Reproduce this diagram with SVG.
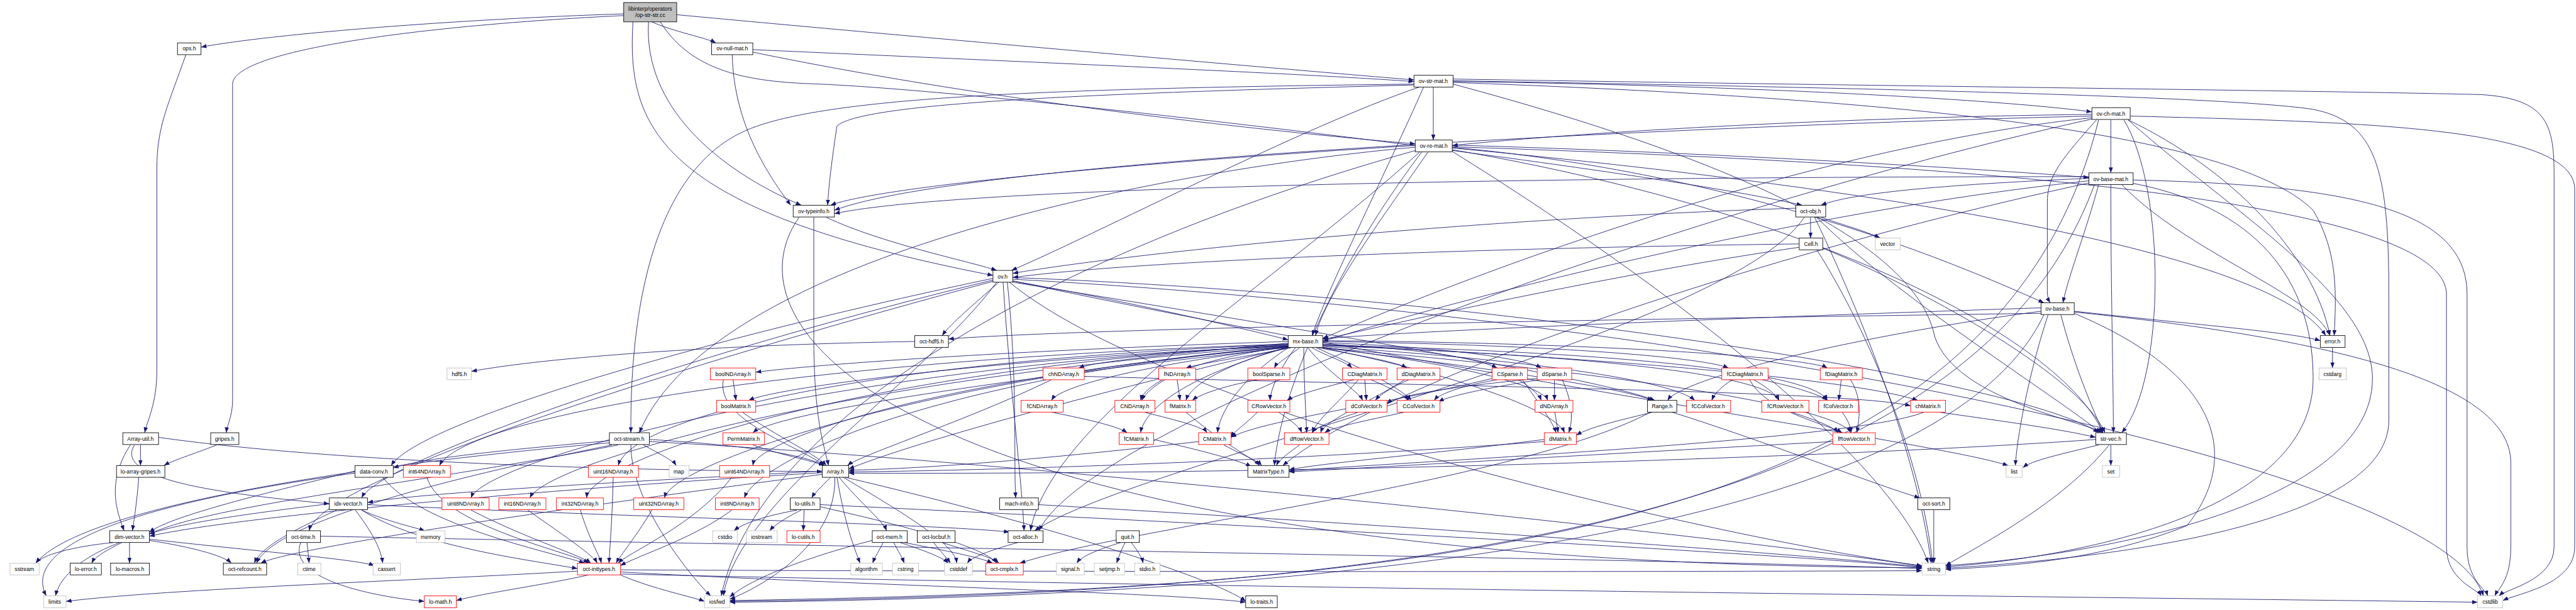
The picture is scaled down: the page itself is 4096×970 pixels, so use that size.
<svg xmlns="http://www.w3.org/2000/svg" width="4096" height="970" viewBox="0 0 4096 970">
<style>
.nd rect{fill:#fff;stroke:#000;stroke-width:1.3}
.nd.r rect{stroke:#ff0000}
.nd.g rect{stroke:#bfbfbf}
.nd.root rect{fill:#bfbfbf}
.nd text{font-family:"Liberation Sans",Arial,sans-serif;font-size:13px;text-anchor:middle;fill:#000}
#edges path{fill:none;stroke:#191970;stroke-width:1.3;marker-end:url(#ah)}
</style>
<defs>
<marker id="ah" markerUnits="userSpaceOnUse" markerWidth="14" markerHeight="10" refX="13" refY="5" orient="auto">
<path d="M0,0 L13,5 L0,10 z" fill="#191970"/>
</marker>
</defs>
<rect width="4096" height="970" fill="#fff"/>
<g transform="scale(0.66873)">
<g id="edges">
<path d="M1483 33 C1100 45 650 80 478 112"/>
<path d="M1550 52 C1600 75 1680 90 1702 102"/>
<path d="M1609 35 C2200 90 3000 160 3362 190"/>
<path d="M1483 37 C1000 60 553 120 553 200 L553 950 C553 990 540 1010 538 1029"/>
<path d="M1570 52 C1650 180 1800 195 1950 200 C2400 220 3900 400 4285 488"/>
<path d="M1542 52 C1530 250 1700 400 1905 488"/>
<path d="M1505 52 C1490 300 1560 500 2361 655"/>
<path d="M442 130 C400 250 373 300 373 400 L373 880 C373 960 350 1000 344 1029"/>
<path d="M1790 118 C2500 150 3100 175 3362 194"/>
<path d="M1790 124 C2400 250 3100 320 3365 342"/>
<path d="M1741 130 C1745 300 1830 420 1880 488"/>
<path d="M3408 207 L3408 333"/>
<path d="M3455 194 C4000 200 4700 230 4974 266"/>
<path d="M3375 207 C3100 300 2600 560 2405 643"/>
<path d="M3385 207 C3300 400 3150 700 3120 798"/>
<path d="M3455 200 C4200 400 4560 600 4600 800 C4650 950 4950 1000 5000 1029"/>
<path d="M3455 196 C4400 230 5300 300 5500 500 C5560 600 5555 700 5550 798"/>
<path d="M3362 200 C2500 210 2000 230 1800 300 C1500 400 1500 900 1500 1029"/>
<path d="M3455 188 C4500 205 5500 215 5900 225 C6060 235 6073 300 6073 420 L6073 1300 C6073 1380 5960 1400 5942 1417"/>
<path d="M3455 192 C4500 210 5300 230 5500 260 C5650 290 5680 400 5680 700 L5680 1000 C5680 1250 5000 1330 4626 1351"/>
<path d="M3362 202 C2700 220 2050 240 1990 300 C1975 400 1970 450 1968 488"/>
<path d="M5019 285 L5019 411"/>
<path d="M4974 272 C4300 280 3700 320 3453 346"/>
<path d="M4985 285 C4900 380 4868 420 4868 480 L4868 690 C4868 705 4870 712 4875 720"/>
<path d="M4974 280 C4300 350 3500 650 3145 805"/>
<path d="M5050 285 C5150 450 5150 900 5045 1029"/>
<path d="M5060 285 C5300 400 5500 600 5540 798"/>
<path d="M4974 283 C4000 500 2600 1000 2470 1262"/>
<path d="M4974 276 C4000 300 2300 380 1984 500"/>
<path d="M5065 276 C5600 290 6122 300 6122 450 L6122 1300 C6122 1390 5990 1410 5951 1428"/>
<path d="M5060 285 C5300 500 5641 700 5641 900 C5641 1200 5000 1320 4626 1345"/>
<path d="M4990 285 C4750 1250 3500 1400 1735 1428"/>
<path d="M3453 345 C4000 360 4700 400 4967 422"/>
<path d="M3453 350 C4200 420 4700 650 4860 720"/>
<path d="M3395 362 C3300 500 3150 700 3128 798"/>
<path d="M3380 362 C3200 600 3050 900 3030 1107"/>
<path d="M3453 356 C4300 500 4900 800 5000 1029"/>
<path d="M3453 352 C4500 450 5400 600 5530 798"/>
<path d="M3365 350 C2800 400 1700 600 1520 1029"/>
<path d="M3375 362 C3000 700 2500 1000 2450 1262"/>
<path d="M3365 346 C2800 380 2100 440 1975 488"/>
<path d="M3453 349 C4400 380 5817 450 5817 700 L5817 1300 C5817 1380 5890 1400 5900 1417"/>
<path d="M3453 360 C4000 700 4500 1100 4585 1339"/>
<path d="M3365 358 C2500 600 1800 1000 1715 1417"/>
<path d="M4990 439 C4960 550 4920 650 4905 720"/>
<path d="M4967 430 C4300 500 3500 700 3145 812"/>
<path d="M4967 435 C4200 600 3300 900 3050 1107"/>
<path d="M5019 439 C5019 700 5025 900 5025 1029"/>
<path d="M5045 439 C5200 600 5500 700 5540 798"/>
<path d="M4967 424 C4600 440 4400 460 4330 488"/>
<path d="M4967 420 C3800 420 2300 440 1984 508"/>
<path d="M5072 428 C5600 440 5866 500 5866 700 L5866 1300 C5866 1380 5910 1400 5915 1417"/>
<path d="M5072 436 C5400 500 5500 700 5500 900 C5500 1200 5000 1320 4626 1348"/>
<path d="M4980 439 C4700 1200 3500 1410 1735 1430"/>
<path d="M1965 517 C2100 580 2300 620 2370 643"/>
<path d="M1935 517 L1935 800 C1935 1000 1960 1060 1970 1107"/>
<path d="M1900 517 C1700 800 2200 1340 4570 1350"/>
<path d="M4305 517 L4305 566"/>
<path d="M4330 517 C4400 540 4450 555 4470 566"/>
<path d="M4270 495 C3500 520 2700 600 2408 650"/>
<path d="M4290 517 C4100 800 2700 1100 2460 1262"/>
<path d="M4320 517 C4500 700 4900 950 4995 1029"/>
<path d="M4315 517 C4450 800 4560 1100 4592 1339"/>
<path d="M4278 580 C3500 590 2700 620 2408 660"/>
<path d="M4278 588 C3500 700 2300 1000 2018 1115"/>
<path d="M4334 590 C4600 700 4950 900 5005 1029"/>
<path d="M4320 594 C4450 800 4570 1100 4595 1339"/>
<path d="M2375 671 C2320 720 2260 770 2240 798"/>
<path d="M2408 668 C2700 720 2950 780 3063 808"/>
<path d="M2408 671 C3200 800 3800 900 3935 952"/>
<path d="M2361 662 C1700 800 1000 1000 930 1107"/>
<path d="M2361 666 C1600 850 900 1100 860 1184"/>
<path d="M2395 671 C2420 900 2410 1100 2415 1184"/>
<path d="M2385 671 C2400 900 2430 1150 2435 1262"/>
<path d="M2361 669 C1500 900 760 1150 735 1262"/>
<path d="M2408 660 C3500 700 4800 900 4990 1029"/>
<path d="M2408 664 C4000 750 5800 1100 5905 1417"/>
<path d="M2370 671 C2200 900 1750 1200 1720 1417"/>
<path d="M2400 671 C2800 1000 4200 1300 4570 1345"/>
<path d="M2408 668 C3500 900 4600 1050 4775 1107"/>
<path d="M4853 740 C4400 800 4000 900 3965 952"/>
<path d="M4853 732 C4000 760 3300 790 3145 806"/>
<path d="M4932 740 C5200 770 5450 790 5517 810"/>
<path d="M4900 748 C4940 900 4990 1000 5000 1029"/>
<path d="M4870 748 C4820 900 4795 1050 4792 1107"/>
<path d="M4853 745 C3800 760 2600 780 2255 806"/>
<path d="M4932 742 C5500 800 5970 900 5970 1100 L5970 1300 C5970 1380 5940 1400 5932 1417"/>
<path d="M4932 745 C5300 900 5320 1100 5200 1250 C5000 1330 4800 1345 4626 1354"/>
<path d="M4860 748 C4600 1300 3000 1420 1735 1432"/>
<path d="M2175 812 C1700 820 1300 850 1121 883"/>
<path d="M3063 812 C2500 830 2000 860 1797 885"/>
<path d="M3063 816 C2800 840 2600 860 2565 875"/>
<path d="M3070 827 C2950 850 2850 865 2820 875"/>
<path d="M3090 827 C3060 850 3035 865 3030 875"/>
<path d="M3120 827 C3150 845 3200 860 3215 875"/>
<path d="M3135 827 C3230 845 3320 860 3345 875"/>
<path d="M3145 818 C3400 830 3520 855 3560 875"/>
<path d="M3145 815 C3450 825 3630 855 3665 875"/>
<path d="M3145 812 C3700 820 4050 850 4110 875"/>
<path d="M3145 810 C3800 815 4300 850 4345 875"/>
<path d="M3063 824 C2200 900 1800 1100 1770 1184"/>
<path d="M3063 822 C2000 900 1300 1100 1260 1184"/>
<path d="M3063 820 C2000 880 1400 1100 1395 1184"/>
<path d="M3063 818 C1800 860 1100 1000 1045 1107"/>
<path d="M3063 821 C1900 880 1150 1100 1120 1184"/>
<path d="M3063 819 C2000 860 1500 1000 1470 1107"/>
<path d="M3063 823 C2200 900 1600 1100 1580 1184"/>
<path d="M3063 825 C2200 900 1800 1050 1790 1107"/>
<path d="M3145 820 C3800 850 4400 900 4560 952"/>
<path d="M3145 827 C3500 870 3850 920 3930 952"/>
<path d="M3145 824 C3700 860 3980 910 4030 952"/>
<path d="M3145 822 C3900 850 4200 900 4230 952"/>
<path d="M3145 821 C4000 840 4320 900 4345 952"/>
<path d="M3145 826 C3500 870 3670 920 3680 952"/>
<path d="M3130 827 C3250 880 3340 930 3355 952"/>
<path d="M3110 827 C3150 880 3230 930 3240 952"/>
<path d="M3080 827 C3040 880 3020 930 3020 952"/>
<path d="M3145 827 C3500 900 3700 980 3720 1029"/>
<path d="M3063 827 C2950 900 2900 980 2895 1029"/>
<path d="M3063 826 C2800 900 2720 980 2712 1029"/>
<path d="M3063 825 C2900 870 2830 920 2820 952"/>
<path d="M3100 827 C3100 900 3105 980 3107 1029"/>
<path d="M3145 827 C4000 900 4380 980 4400 1029"/>
<path d="M3063 826 C2400 900 1850 980 1790 1029"/>
<path d="M3063 823 C2400 850 1850 920 1780 952"/>
<path d="M3063 824 C2800 860 2720 920 2712 952"/>
<path d="M3063 825 C2700 870 2520 920 2500 952"/>
<path d="M5546 827 L5546 875"/>
<path d="M1743 903 L1750 952"/>
<path d="M1720 903 C1700 1000 1900 1060 1960 1107"/>
<path d="M2578 895 C3500 920 4400 930 4543 965"/>
<path d="M2500 903 C2300 1000 2050 1080 2015 1107"/>
<path d="M2799 903 L2806 952"/>
<path d="M2770 903 C2740 920 2720 940 2715 952"/>
<path d="M2990 903 C2900 920 2850 940 2835 952"/>
<path d="M3260 903 C3300 920 3340 940 3350 952"/>
<path d="M3245 903 L3249 952"/>
<path d="M3220 903 C3150 920 3080 940 3060 952"/>
<path d="M3230 903 C3180 960 3130 1000 3120 1029"/>
<path d="M3350 903 C3310 920 3280 940 3270 952"/>
<path d="M3340 903 C3250 960 3150 1000 3140 1029"/>
<path d="M3560 903 C3460 920 3420 940 3410 952"/>
<path d="M3610 903 C3640 920 3660 940 3665 952"/>
<path d="M3548 900 C3300 960 3000 1000 2927 1040"/>
<path d="M3620 903 C3660 960 3690 1000 3700 1029"/>
<path d="M3696 903 L3696 952"/>
<path d="M3715 903 C3740 960 3740 1000 3730 1029"/>
<path d="M3660 903 C3550 920 3450 940 3420 955"/>
<path d="M3655 900 C3450 920 3320 940 3298 960"/>
<path d="M4120 903 C4090 920 4075 940 4070 952"/>
<path d="M4170 903 C4200 920 4225 940 4230 952"/>
<path d="M4190 903 C4270 920 4330 940 4345 952"/>
<path d="M4160 903 C4200 980 4350 1010 4380 1029"/>
<path d="M4378 903 L4372 952"/>
<path d="M4400 903 C4430 950 4420 1000 4415 1029"/>
<path d="M1765 980 C1850 1040 1940 1080 1965 1107"/>
<path d="M2500 980 C2600 1000 2660 1015 2680 1029"/>
<path d="M2720 980 C2800 1000 2860 1015 2870 1029"/>
<path d="M2820 980 C2900 1050 2980 1090 2995 1107"/>
<path d="M2990 980 C2960 1010 2935 1025 2927 1040"/>
<path d="M3040 980 C3070 1000 3090 1015 3095 1029"/>
<path d="M3230 980 C3170 1000 3130 1015 3120 1029"/>
<path d="M3340 980 C3250 1000 3170 1015 3150 1029"/>
<path d="M3697 980 L3705 1029"/>
<path d="M3930 980 C3850 1000 3780 1015 3748 1035"/>
<path d="M3975 980 C4200 1050 4450 1150 4565 1184"/>
<path d="M3925 980 C3600 1150 2700 1250 2425 1339"/>
<path d="M4260 980 C4320 1000 4360 1015 4370 1029"/>
<path d="M4380 980 C4395 1000 4400 1015 4402 1029"/>
<path d="M4610 980 C4750 1000 4900 1020 4983 1040"/>
<path d="M4575 980 C4400 1050 3300 1100 3065 1120"/>
<path d="M334 1058 L334 1107"/>
<path d="M310 1058 C250 1150 280 1220 295 1262"/>
<path d="M320 1058 C260 1150 600 1180 783 1198"/>
<path d="M377 1040 C800 1100 1500 1120 1955 1121"/>
<path d="M515 1058 C460 1080 410 1095 390 1107"/>
<path d="M1449 1048 C1200 1070 1000 1090 935 1113"/>
<path d="M1470 1058 C1000 1150 500 1200 355 1270"/>
<path d="M1449 1053 C900 1100 200 1200 85 1339"/>
<path d="M1530 1058 C1570 1080 1600 1095 1608 1107"/>
<path d="M1455 1058 C1000 1150 650 1250 610 1339"/>
<path d="M1544 1050 C2500 1100 4300 1300 4570 1347"/>
<path d="M1500 1058 C1500 1200 1650 1380 1690 1417"/>
<path d="M1544 1045 C1800 1060 1920 1085 1960 1107"/>
<path d="M1790 1058 C1850 1080 1930 1095 1960 1107"/>
<path d="M2743 1045 C2850 1070 2950 1095 2975 1110"/>
<path d="M2910 1058 C2950 1080 2990 1095 3000 1107"/>
<path d="M3090 1058 C3060 1080 3040 1095 3035 1107"/>
<path d="M3672 1045 C3400 1080 3150 1100 3065 1117"/>
<path d="M4358 1050 C3800 1080 3300 1110 3065 1122"/>
<path d="M3672 1050 C3000 1100 2300 1120 2018 1122"/>
<path d="M2850 1050 C2500 1090 2200 1115 2018 1118"/>
<path d="M4990 1058 C4900 1080 4830 1095 4810 1112"/>
<path d="M5019 1058 L5019 1107"/>
<path d="M5015 1058 C4900 1200 4700 1300 4626 1345"/>
<path d="M4983 1045 C4500 1080 3200 1130 2018 1125"/>
<path d="M330 1135 C325 1200 318 1240 315 1262"/>
<path d="M844 1125 C300 1200 50 1300 110 1417"/>
<path d="M844 1120 C600 1180 400 1230 355 1266"/>
<path d="M910 1135 C1000 1250 1300 1310 1390 1339"/>
<path d="M1015 1135 C1050 1250 1350 1310 1400 1339"/>
<path d="M1458 1135 C1455 1250 1450 1300 1448 1339"/>
<path d="M1740 1135 C1650 1250 1500 1310 1470 1339"/>
<path d="M1975 1135 C1950 1160 1935 1175 1930 1184"/>
<path d="M1995 1135 C2050 1200 2100 1240 2108 1262"/>
<path d="M1990 1135 C2010 1250 2030 1300 2045 1339"/>
<path d="M2005 1135 C2200 1250 2270 1300 2275 1339"/>
<path d="M1985 1135 C1990 1300 1800 1400 1735 1425"/>
<path d="M1955 1128 C1400 1200 700 1300 620 1339"/>
<path d="M1955 1124 C1500 1150 600 1220 355 1275"/>
<path d="M1955 1120 C1600 1140 1000 1170 874 1195"/>
<path d="M2010 1135 C2500 1250 2900 1380 2962 1430"/>
<path d="M783 1198 C600 1220 420 1245 355 1270"/>
<path d="M800 1213 C700 1260 620 1300 605 1339"/>
<path d="M860 1213 C920 1240 990 1255 1010 1262"/>
<path d="M845 1213 C880 1260 905 1300 910 1339"/>
<path d="M860 1213 C1000 1300 1250 1330 1373 1352"/>
<path d="M874 1200 C1500 1230 2200 1245 2400 1265"/>
<path d="M1120 1213 C1250 1280 1380 1320 1405 1339"/>
<path d="M1255 1213 C1350 1280 1410 1320 1420 1339"/>
<path d="M1380 1213 C1400 1280 1425 1320 1430 1339"/>
<path d="M1550 1213 C1510 1280 1475 1320 1465 1339"/>
<path d="M1740 1213 C1650 1280 1520 1320 1475 1345"/>
<path d="M1895 1213 C1800 1230 1760 1250 1745 1262"/>
<path d="M1905 1213 C1870 1230 1840 1250 1830 1262"/>
<path d="M1912 1213 L1910 1262"/>
<path d="M1950 1205 C2150 1250 2340 1300 2370 1339"/>
<path d="M1950 1200 C3000 1250 4300 1320 4570 1350"/>
<path d="M2469 1200 C3500 1260 4300 1320 4570 1348"/>
<path d="M4598 1213 L4598 1339"/>
<path d="M270 1290 C170 1300 100 1320 85 1339"/>
<path d="M290 1290 C250 1310 225 1325 218 1339"/>
<path d="M308 1290 L308 1339"/>
<path d="M355 1285 C450 1300 530 1320 550 1339"/>
<path d="M355 1282 C600 1310 850 1330 890 1345"/>
<path d="M285 1290 C180 1330 140 1380 132 1417"/>
<path d="M730 1290 L735 1339"/>
<path d="M715 1290 C680 1380 900 1420 1009 1430"/>
<path d="M762 1275 C2000 1300 4000 1330 4570 1352"/>
<path d="M2100 1290 C2090 1310 2080 1325 2075 1339"/>
<path d="M2125 1290 C2135 1310 2145 1325 2150 1339"/>
<path d="M2140 1290 C2200 1310 2240 1325 2255 1339"/>
<path d="M2150 1290 C2250 1310 2330 1325 2360 1339"/>
<path d="M2074 1285 C1900 1330 1780 1380 1735 1420"/>
<path d="M2220 1290 C2235 1310 2250 1325 2260 1339"/>
<path d="M2240 1290 C2300 1310 2360 1325 2375 1339"/>
<path d="M2420 1290 C2350 1310 2310 1325 2300 1339"/>
<path d="M2665 1290 C2600 1310 2570 1325 2560 1339"/>
<path d="M2675 1290 C2665 1310 2660 1325 2655 1339"/>
<path d="M2690 1290 C2705 1310 2715 1325 2718 1339"/>
<path d="M1373 1358 C1000 1380 400 1400 157 1430"/>
<path d="M1400 1367 C1300 1390 1150 1410 1085 1428"/>
<path d="M1475 1360 C2000 1390 2800 1410 2962 1432"/>
<path d="M1475 1355 C2500 1360 4000 1360 4570 1357"/>
<path d="M1475 1365 C3000 1400 5000 1420 5891 1432"/>
<path d="M1475 1367 C1550 1400 1650 1420 1675 1430"/>
</g>
<g id="n_root" class="nd root"><rect x="1483" y="6" width="126" height="46"/><text x="1546" y="25">libinterp/operators</text><text x="1546" y="41">/op-str-str.cc</text></g>
<g id="n_ops" class="nd"><rect x="422" y="102" width="56" height="28"/><text x="450" y="120">ops.h</text></g>
<g id="n_ovnull" class="nd"><rect x="1692" y="102" width="98" height="28"/><text x="1741" y="120">ov-null-mat.h</text></g>
<g id="n_ovstr" class="nd"><rect x="3362" y="179" width="93" height="28"/><text x="3408" y="197">ov-str-mat.h</text></g>
<g id="n_ovch" class="nd"><rect x="4974" y="256" width="91" height="28"/><text x="5019" y="275">ov-ch-mat.h</text></g>
<g id="n_ovre" class="nd"><rect x="3365" y="333" width="88" height="28"/><text x="3409" y="352">ov-re-mat.h</text></g>
<g id="n_ovbasemat" class="nd"><rect x="4967" y="411" width="105" height="28"/><text x="5019" y="430">ov-base-mat.h</text></g>
<g id="n_ovtypeinfo" class="nd"><rect x="1886" y="488" width="98" height="28"/><text x="1935" y="507">ov-typeinfo.h</text></g>
<g id="n_octobj" class="nd"><rect x="4270" y="488" width="71" height="28"/><text x="4305" y="507">oct-obj.h</text></g>
<g id="n_cell" class="nd"><rect x="4278" y="566" width="56" height="28"/><text x="4306" y="585">Cell.h</text></g>
<g id="n_vector" class="nd g"><rect x="4459" y="566" width="59" height="28"/><text x="4488" y="585">vector</text></g>
<g id="n_ov" class="nd"><rect x="2361" y="643" width="47" height="28"/><text x="2384" y="662">ov.h</text></g>
<g id="n_ovbase" class="nd"><rect x="4853" y="720" width="79" height="28"/><text x="4892" y="739">ov-base.h</text></g>
<g id="n_octhdf5" class="nd"><rect x="2175" y="798" width="80" height="28"/><text x="2215" y="817">oct-hdf5.h</text></g>
<g id="n_mxbase" class="nd"><rect x="3063" y="798" width="82" height="28"/><text x="3104" y="817">mx-base.h</text></g>
<g id="n_error" class="nd"><rect x="5517" y="798" width="59" height="28"/><text x="5546" y="817">error.h</text></g>
<g id="n_hdf5" class="nd g"><rect x="1063" y="875" width="58" height="28"/><text x="1092" y="894">hdf5.h</text></g>
<g id="n_boolNDArray" class="nd r"><rect x="1689" y="875" width="108" height="28"/><text x="1743" y="894">boolNDArray.h</text></g>
<g id="n_chNDArray" class="nd r"><rect x="2480" y="875" width="98" height="28"/><text x="2529" y="894">chNDArray.h</text></g>
<g id="n_fNDArray" class="nd r"><rect x="2755" y="875" width="88" height="28"/><text x="2799" y="894">fNDArray.h</text></g>
<g id="n_boolSparse" class="nd r"><rect x="2967" y="875" width="100" height="28"/><text x="3017" y="894">boolSparse.h</text></g>
<g id="n_CDiagMatrix" class="nd r"><rect x="3192" y="875" width="106" height="28"/><text x="3245" y="894">CDiagMatrix.h</text></g>
<g id="n_dDiagMatrix" class="nd r"><rect x="3322" y="875" width="102" height="28"/><text x="3373" y="894">dDiagMatrix.h</text></g>
<g id="n_CSparse" class="nd r"><rect x="3548" y="875" width="84" height="28"/><text x="3590" y="894">CSparse.h</text></g>
<g id="n_dSparse" class="nd r"><rect x="3655" y="875" width="82" height="28"/><text x="3696" y="894">dSparse.h</text></g>
<g id="n_fCDiagMatrix" class="nd r"><rect x="4094" y="875" width="110" height="28"/><text x="4149" y="894">fCDiagMatrix.h</text></g>
<g id="n_fDiagMatrix" class="nd r"><rect x="4328" y="875" width="100" height="28"/><text x="4378" y="894">fDiagMatrix.h</text></g>
<g id="n_cstdarg" class="nd g"><rect x="5514" y="875" width="65" height="28"/><text x="5546" y="894">cstdarg</text></g>
<g id="n_boolMatrix" class="nd r"><rect x="1704" y="952" width="93" height="28"/><text x="1750" y="971">boolMatrix.h</text></g>
<g id="n_fCNDArray" class="nd r"><rect x="2428" y="952" width="100" height="28"/><text x="2478" y="971">fCNDArray.h</text></g>
<g id="n_CNDArray" class="nd r"><rect x="2651" y="952" width="95" height="28"/><text x="2698" y="971">CNDArray.h</text></g>
<g id="n_fMatrix" class="nd r"><rect x="2770" y="952" width="73" height="28"/><text x="2806" y="971">fMatrix.h</text></g>
<g id="n_CRowVector" class="nd r"><rect x="2967" y="952" width="100" height="28"/><text x="3017" y="971">CRowVector.h</text></g>
<g id="n_dColVector" class="nd r"><rect x="3200" y="952" width="98" height="28"/><text x="3249" y="971">dColVector.h</text></g>
<g id="n_CColVector" class="nd r"><rect x="3322" y="952" width="102" height="28"/><text x="3373" y="971">CColVector.h</text></g>
<g id="n_dNDArray" class="nd r"><rect x="3650" y="952" width="90" height="28"/><text x="3695" y="971">dNDArray.h</text></g>
<g id="n_Range" class="nd"><rect x="3917" y="952" width="70" height="28"/><text x="3952" y="971">Range.h</text></g>
<g id="n_fCColVector" class="nd r"><rect x="4010" y="952" width="105" height="28"/><text x="4062" y="971">fCColVector.h</text></g>
<g id="n_fCRowVector" class="nd r"><rect x="4189" y="952" width="112" height="28"/><text x="4245" y="971">fCRowVector.h</text></g>
<g id="n_fColVector" class="nd r"><rect x="4324" y="952" width="95" height="28"/><text x="4371" y="971">fColVector.h</text></g>
<g id="n_chMatrix" class="nd r"><rect x="4543" y="952" width="83" height="28"/><text x="4584" y="971">chMatrix.h</text></g>
<g id="n_ArrayUtil" class="nd"><rect x="292" y="1029" width="85" height="28"/><text x="334" y="1048">Array-util.h</text></g>
<g id="n_gripes" class="nd"><rect x="501" y="1029" width="67" height="28"/><text x="534" y="1048">gripes.h</text></g>
<g id="n_octstream" class="nd"><rect x="1449" y="1029" width="95" height="28"/><text x="1496" y="1048">oct-stream.h</text></g>
<g id="n_PermMatrix" class="nd r"><rect x="1719" y="1029" width="99" height="28"/><text x="1768" y="1048">PermMatrix.h</text></g>
<g id="n_fCMatrix" class="nd r"><rect x="2661" y="1029" width="82" height="28"/><text x="2702" y="1048">fCMatrix.h</text></g>
<g id="n_CMatrix" class="nd r"><rect x="2850" y="1029" width="77" height="28"/><text x="2888" y="1048">CMatrix.h</text></g>
<g id="n_dRowVector" class="nd r"><rect x="3054" y="1029" width="106" height="28"/><text x="3107" y="1048">dRowVector.h</text></g>
<g id="n_dMatrix" class="nd r"><rect x="3672" y="1029" width="76" height="28"/><text x="3710" y="1048">dMatrix.h</text></g>
<g id="n_fRowVector" class="nd r"><rect x="4358" y="1029" width="101" height="28"/><text x="4408" y="1048">fRowVector.h</text></g>
<g id="n_strvec" class="nd"><rect x="4983" y="1029" width="73" height="28"/><text x="5019" y="1048">str-vec.h</text></g>
<g id="n_loarraygripes" class="nd"><rect x="277" y="1107" width="115" height="28"/><text x="334" y="1126">lo-array-gripes.h</text></g>
<g id="n_dataconv" class="nd"><rect x="844" y="1107" width="91" height="28"/><text x="889" y="1126">data-conv.h</text></g>
<g id="n_int64NDArray" class="nd r"><rect x="959" y="1107" width="112" height="28"/><text x="1015" y="1126">int64NDArray.h</text></g>
<g id="n_uint16NDArray" class="nd r"><rect x="1399" y="1107" width="119" height="28"/><text x="1458" y="1126">uint16NDArray.h</text></g>
<g id="n_map" class="nd g"><rect x="1591" y="1107" width="47" height="28"/><text x="1614" y="1126">map</text></g>
<g id="n_uint64NDArray" class="nd r"><rect x="1711" y="1107" width="119" height="28"/><text x="1770" y="1126">uint64NDArray.h</text></g>
<g id="n_Array" class="nd"><rect x="1955" y="1107" width="63" height="28"/><text x="1986" y="1126">Array.h</text></g>
<g id="n_MatrixType" class="nd"><rect x="2967" y="1107" width="98" height="28"/><text x="3016" y="1126">MatrixType.h</text></g>
<g id="n_list" class="nd g"><rect x="4770" y="1107" width="38" height="28"/><text x="4789" y="1126">list</text></g>
<g id="n_set" class="nd g"><rect x="4999" y="1107" width="41" height="28"/><text x="5019" y="1126">set</text></g>
<g id="n_idxvector" class="nd"><rect x="783" y="1184" width="91" height="28"/><text x="828" y="1203">idx-vector.h</text></g>
<g id="n_uint8NDArray" class="nd r"><rect x="1051" y="1184" width="112" height="28"/><text x="1107" y="1203">uint8NDArray.h</text></g>
<g id="n_int16NDArray" class="nd r"><rect x="1186" y="1184" width="112" height="28"/><text x="1242" y="1203">int16NDArray.h</text></g>
<g id="n_int32NDArray" class="nd r"><rect x="1323" y="1184" width="112" height="28"/><text x="1379" y="1203">int32NDArray.h</text></g>
<g id="n_uint32NDArray" class="nd r"><rect x="1507" y="1184" width="119" height="28"/><text x="1566" y="1203">uint32NDArray.h</text></g>
<g id="n_int8NDArray" class="nd r"><rect x="1701" y="1184" width="104" height="28"/><text x="1753" y="1203">int8NDArray.h</text></g>
<g id="n_loutils" class="nd"><rect x="1879" y="1184" width="71" height="28"/><text x="1914" y="1203">lo-utils.h</text></g>
<g id="n_machinfo" class="nd"><rect x="2377" y="1184" width="92" height="28"/><text x="2423" y="1203">mach-info.h</text></g>
<g id="n_octsort" class="nd"><rect x="4560" y="1184" width="76" height="28"/><text x="4598" y="1203">oct-sort.h</text></g>
<g id="n_dimvector" class="nd"><rect x="261" y="1262" width="94" height="28"/><text x="308" y="1281">dim-vector.h</text></g>
<g id="n_octtime" class="nd"><rect x="681" y="1262" width="81" height="28"/><text x="721" y="1281">oct-time.h</text></g>
<g id="n_memory" class="nd g"><rect x="990" y="1262" width="68" height="28"/><text x="1024" y="1281">memory</text></g>
<g id="n_cstdio" class="nd g"><rect x="1695" y="1262" width="58" height="28"/><text x="1724" y="1281">cstdio</text></g>
<g id="n_iostream" class="nd g"><rect x="1775" y="1262" width="73" height="28"/><text x="1811" y="1281">iostream</text></g>
<g id="n_locutils" class="nd r"><rect x="1871" y="1262" width="79" height="28"/><text x="1910" y="1281">lo-cutils.h</text></g>
<g id="n_octmem" class="nd"><rect x="2074" y="1262" width="83" height="28"/><text x="2115" y="1281">oct-mem.h</text></g>
<g id="n_octlocbuf" class="nd"><rect x="2181" y="1262" width="90" height="28"/><text x="2226" y="1281">oct-locbuf.h</text></g>
<g id="n_octalloc" class="nd"><rect x="2397" y="1262" width="83" height="28"/><text x="2438" y="1281">oct-alloc.h</text></g>
<g id="n_quit" class="nd"><rect x="2654" y="1262" width="55" height="28"/><text x="2681" y="1281">quit.h</text></g>
<g id="n_sstream" class="nd g"><rect x="24" y="1339" width="69" height="28"/><text x="58" y="1358">sstream</text></g>
<g id="n_loerror" class="nd"><rect x="167" y="1339" width="74" height="28"/><text x="204" y="1358">lo-error.h</text></g>
<g id="n_lomacros" class="nd"><rect x="263" y="1339" width="92" height="28"/><text x="309" y="1358">lo-macros.h</text></g>
<g id="n_octrefcount" class="nd"><rect x="531" y="1339" width="103" height="28"/><text x="582" y="1358">oct-refcount.h</text></g>
<g id="n_ctime" class="nd g"><rect x="708" y="1339" width="55" height="28"/><text x="735" y="1358">ctime</text></g>
<g id="n_cassert" class="nd g"><rect x="887" y="1339" width="65" height="28"/><text x="919" y="1358">cassert</text></g>
<g id="n_octinttypes" class="nd r"><rect x="1373" y="1339" width="102" height="28"/><text x="1424" y="1358">oct-inttypes.h</text></g>
<g id="n_algorithm" class="nd g"><rect x="2023" y="1339" width="75" height="28"/><text x="2060" y="1358">algorithm</text></g>
<g id="n_cstring" class="nd g"><rect x="2122" y="1339" width="62" height="28"/><text x="2153" y="1358">cstring</text></g>
<g id="n_cstddef" class="nd g"><rect x="2246" y="1339" width="66" height="28"/><text x="2279" y="1358">cstddef</text></g>
<g id="n_octcmplx" class="nd r"><rect x="2344" y="1339" width="89" height="28"/><text x="2388" y="1358">oct-cmplx.h</text></g>
<g id="n_signal" class="nd g"><rect x="2512" y="1339" width="66" height="28"/><text x="2545" y="1358">signal.h</text></g>
<g id="n_setjmp" class="nd g"><rect x="2602" y="1339" width="72" height="28"/><text x="2638" y="1358">setjmp.h</text></g>
<g id="n_stdio" class="nd g"><rect x="2698" y="1339" width="60" height="28"/><text x="2728" y="1358">stdio.h</text></g>
<g id="n_string" class="nd g"><rect x="4570" y="1339" width="56" height="28"/><text x="4598" y="1358">string</text></g>
<g id="n_limits" class="nd g"><rect x="104" y="1417" width="53" height="28"/><text x="130" y="1436">limits</text></g>
<g id="n_lomath" class="nd r"><rect x="1009" y="1417" width="76" height="28"/><text x="1047" y="1436">lo-math.h</text></g>
<g id="n_iosfwd" class="nd g"><rect x="1675" y="1417" width="60" height="28"/><text x="1705" y="1436">iosfwd</text></g>
<g id="n_lotraits" class="nd"><rect x="2962" y="1417" width="75" height="28"/><text x="3000" y="1436">lo-traits.h</text></g>
<g id="n_cstdlib" class="nd g"><rect x="5891" y="1417" width="60" height="28"/><text x="5921" y="1436">cstdlib</text></g>
</g>
</svg>
